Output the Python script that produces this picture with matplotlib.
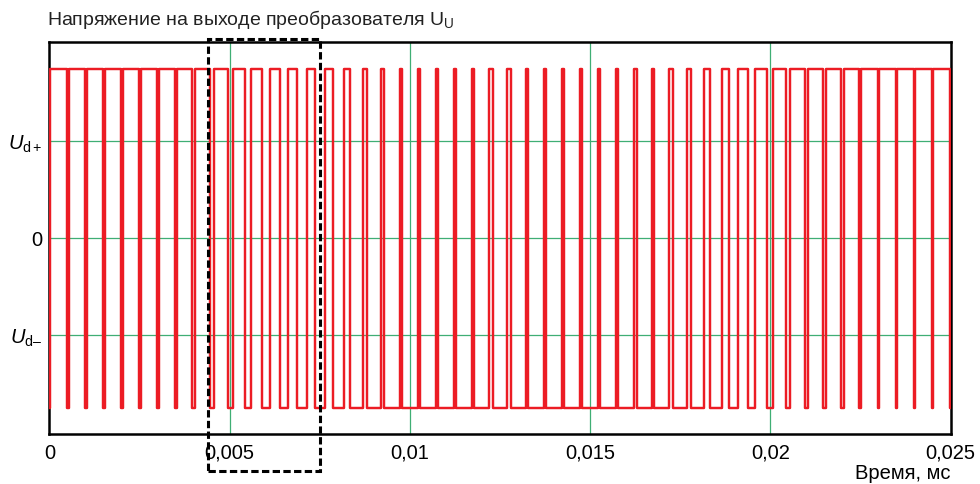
import matplotlib
matplotlib.use('Agg')
import matplotlib.pyplot as plt
from matplotlib.patches import Rectangle

# carrier period (s) and per-period duty of the high state
period = 0.0005
duty = [0.89, 0.89, 0.89, 0.89, 0.88, 0.88, 0.88, 0.87, 0.84, 0.76,
        0.68, 0.62, 0.56, 0.50, 0.46, 0.42, 0.33, 0.22, 0.16, 0.15,
        0.13, 0.10, 0.14, 0.10, 0.20, 0.18, 0.08, 0.14, 0.10, 0.08,
        0.08, 0.08, 0.18, 0.10, 0.20, 0.24, 0.34, 0.40, 0.56, 0.66,
        0.76, 0.82, 0.85, 0.87, 0.88, 0.89, 0.90, 0.90, 0.90, 0.90]
level_high = 1.75
level_low = -1.75

x_ticks = [0, 0.005, 0.01, 0.015, 0.02, 0.025]
x_labels = ['0', '0,005', '0,01', '0,015', '0,02', '0,025']
y_ticks = [-1, 0, 1]
y_labels = [r'$U_{\mathrm{d–}}$', '0', r'$U_{\mathrm{d+}}$']
zoom_box = (0.0044, 0.0075)

plt.rcParams['font.family'] = ['Liberation Sans', 'DejaVu Sans']
plt.rcParams['mathtext.fontset'] = 'custom'
plt.rcParams['mathtext.rm'] = 'Liberation Sans'
plt.rcParams['mathtext.it'] = 'Liberation Sans:italic'

# build the switching waveform from the duty cycles
ts = [0.0]
vs = [level_low]
for k, d in enumerate(duty):
    mid = (k + 0.5) * period
    rise = mid - d * period / 2
    fall = mid + d * period / 2
    ts += [rise, rise, fall, fall]
    vs += [level_low, level_high, level_high, level_low]
ts.append(len(duty) * period)
vs.append(level_low)

fig = plt.figure(figsize=(9.8, 4.84), dpi=100)
ax = fig.add_axes([0.0505, 0.103, 0.9195, 0.811])

grid_c = '#3fae74'
for x in x_ticks[1:-1]:
    ax.axvline(x, color=grid_c, lw=0.9, zorder=1)
for y in y_ticks:
    ax.axhline(y, color=grid_c, lw=0.9, zorder=1)

ax.plot(ts, vs, color='#ec1c24', lw=1.75, zorder=3)

ax.set_xlim(0, 0.025)
ax.set_ylim(-2.02, 2.03)
ax.set_xticks(x_ticks)
ax.set_xticklabels(x_labels)
ax.set_yticks(y_ticks)
ax.set_yticklabels(y_labels)
ax.tick_params(length=0, labelsize=14.5)
ax.tick_params(axis='x', pad=7)
ax.tick_params(axis='y', pad=5)
for sp in ax.spines.values():
    sp.set_linewidth(1.8)
    sp.set_color('black')

box = Rectangle((zoom_box[0], -2.4), zoom_box[1] - zoom_box[0], 4.46,
                fill=False, ec='black', lw=2.2, ls=(0, (2.4, 1.1)),
                clip_on=False, zorder=5)
ax.add_patch(box)

fig.text(47 / 980, 1 - 25 / 484,
         r'Напряжение на выходе преобразователя U$_{\mathrm{U}}$',
         fontsize=14, ha='left', va='baseline', color='#222222')
ax.text(1.0, -0.075, 'Время, мс', transform=ax.transAxes,
        fontsize=14.5, ha='right', va='top')

fig.savefig('out.png', dpi=100)
